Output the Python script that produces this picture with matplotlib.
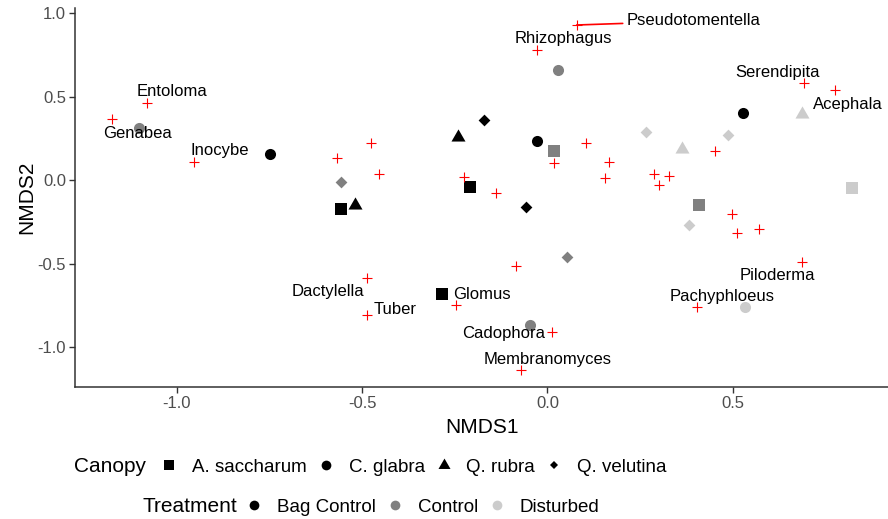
import matplotlib.pyplot as plt
from matplotlib.lines import Line2D

plt.rcParams['font.family'] = ['Liberation Sans', 'DejaVu Sans']
plt.rcParams['axes.unicode_minus'] = False

# NMDS site scores
site_x = [-1.103, -0.749, -0.557, -0.557, -0.520, -0.242, -0.171, -0.028,
          0.017, -0.209, -0.058, 0.028, 0.527, 0.688, 0.265, 0.364,
          0.486, 0.823, 0.409, 0.381, 0.052, -0.285, -0.048, 0.534]
site_y = [0.313, 0.157, -0.010, -0.172, -0.148, 0.261, 0.361, 0.237,
          0.175, -0.038, -0.158, 0.660, 0.405, 0.397, 0.287, 0.186,
          0.271, -0.044, -0.150, -0.269, -0.459, -0.683, -0.865, -0.757]
site_canopy = ['CG', 'CG', 'QV', 'AS', 'QR', 'QR', 'QV', 'CG',
               'AS', 'AS', 'QV', 'CG', 'CG', 'QR', 'QV', 'QR',
               'QV', 'AS', 'AS', 'QV', 'QV', 'AS', 'CG', 'CG']
site_treatment = ['C', 'B', 'C', 'B', 'B', 'B', 'B', 'B',
                  'C', 'B', 'B', 'C', 'B', 'D', 'D', 'D',
                  'D', 'D', 'C', 'D', 'C', 'B', 'C', 'D']

# NMDS genus scores (None = not labelled)
genus_names = ['Entoloma', 'Genabea', 'Inocybe', None, None, None,
               'Pseudotomentella', 'Rhizophagus', None, None, None, None,
               None, None, 'Serendipita', 'Acephala', None, None, None,
               None, None, None, None, 'Piloderma', 'Pachyphloeus',
               'Dactylella', 'Tuber', 'Glomus', None, 'Cadophora',
               'Membranomyces']
genus_x = [-1.081, -1.176, -0.953, -0.569, -0.476, -0.454, 0.079, -0.028,
           -0.225, -0.139, 0.104, 0.018, 0.165, 0.155, 0.692, 0.776,
           0.452, 0.287, 0.328, 0.302, 0.497, 0.512, 0.572, 0.688,
           0.404, -0.488, -0.488, -0.248, -0.086, 0.013, -0.072]
genus_y = [0.461, 0.367, 0.111, 0.132, 0.225, 0.038, 0.930, 0.780,
           0.022, -0.078, 0.225, 0.102, 0.108, 0.012, 0.585, 0.540,
           0.177, 0.038, 0.026, -0.028, -0.204, -0.317, -0.292, -0.487,
           -0.759, -0.587, -0.807, -0.747, -0.511, -0.906, -1.136]

# repelled label positions for the named genera
label_pos = {
    'Entoloma': (-1.012, 0.529), 'Genabea': (-1.106, 0.283),
    'Inocybe': (-0.884, 0.181), 'Rhizophagus': (0.043, 0.852),
    'Pseudotomentella': (0.395, 0.954), 'Serendipita': (0.621, 0.643),
    'Acephala': (0.810, 0.451), 'Piloderma': (0.620, -0.567),
    'Pachyphloeus': (0.472, -0.693), 'Dactylella': (-0.592, -0.663),
    'Tuber': (-0.412, -0.776), 'Glomus': (-0.176, -0.681),
    'Cadophora': (-0.117, -0.920), 'Membranomyces': (0.0, -1.070),
}

canopy_names = {'AS': 'A. saccharum', 'CG': 'C. glabra',
                'QR': 'Q. rubra', 'QV': 'Q. velutina'}
treatment_names = {'B': 'Bag Control', 'C': 'Control', 'D': 'Disturbed'}

tri = [(0, 1), (-0.866, -0.5), (0.866, -0.5)]
shapes = {'AS': ('s', 64), 'CG': ('o', 64), 'QR': (tri, 136), 'QV': ('D', 36)}
colours = {'B': 'black', 'C': '#808080', 'D': '#cccccc'}

fig = plt.figure(figsize=(8.88, 5.19), dpi=100)
ax = fig.add_axes([74.5 / 888, 1 - 387.4 / 519, 815 / 888, 379.6 / 519])

for cx, cy, can, trt in zip(site_x, site_y, site_canopy, site_treatment):
    m, s = shapes[can]
    ax.scatter(cx, cy, marker=m, s=s, color=colours[trt], linewidths=0, zorder=2)

ax.scatter(genus_x, genus_y, marker='+', s=45, color='red', linewidths=0.8, zorder=3)

for name, gx, gy in zip(genus_names, genus_x, genus_y):
    if name is None:
        continue
    tx, ty = label_pos[name]
    if name == 'Pseudotomentella':
        ax.annotate(name, xy=(gx, gy), xytext=(tx, ty), fontsize=12,
                    ha='center', va='center', color='black', zorder=4,
                    arrowprops=dict(arrowstyle='-', color='red', lw=1.2,
                                    shrinkA=1, shrinkB=0))
    else:
        ax.text(tx, ty, name, fontsize=12, ha='center', va='center',
                color='black', zorder=4)

ax.set_xlim(-1.276, 0.923)
ax.set_ylim(-1.24, 1.033)
ax.set_xticks([-1.0, -0.5, 0.0, 0.5])
ax.set_yticks([-1.0, -0.5, 0.0, 0.5, 1.0])
ax.set_xticklabels(['-1.0', '-0.5', '0.0', '0.5'])
ax.set_yticklabels(['-1.0', '-0.5', '0.0', '0.5', '1.0'])
ax.tick_params(labelsize=12, labelcolor='#4d4d4d', color='#333333',
               length=4, width=1, pad=2)
for side in ['top', 'right']:
    ax.spines[side].set_visible(False)
for side in ['left', 'bottom']:
    ax.spines[side].set_color('#333333')
    ax.spines[side].set_linewidth(1.1)
ax.set_xlabel('NMDS1', fontsize=15, labelpad=5)
ax.set_ylabel('NMDS2', fontsize=15, labelpad=1)


def key(marker, colour, size):
    return Line2D([], [], linestyle='none', marker=marker, markersize=size,
                  markerfacecolor=colour, markeredgecolor=colour,
                  markeredgewidth=0)


canopy_keys = [key('s', 'black', 7), key('o', 'black', 7),
               key(tri, 'black', 10), key('D', 'black', 4.5)]
treat_keys = [key('o', colours[t], 7) for t in ['B', 'C', 'D']]

fig.text(74 / 888, 1 - 467 / 519, 'Canopy', fontsize=15, va='center')
fig.legend(canopy_keys, [canopy_names[c] for c in ['AS', 'CG', 'QR', 'QV']],
           loc='center left', bbox_to_anchor=(160 / 888, 1 - 467 / 519),
           ncol=4, frameon=False, fontsize=13.5, handlelength=1.0,
           handletextpad=0.72, columnspacing=0.5, borderpad=0,
           borderaxespad=0)

fig.text(142 / 888, 1 - 507 / 519, 'Treatment', fontsize=15, va='center')
fig.legend(treat_keys, [treatment_names[t] for t in ['B', 'C', 'D']],
           loc='center left', bbox_to_anchor=(245 / 888, 1 - 507 / 519),
           ncol=3, frameon=False, fontsize=13.5, handlelength=1.0,
           handletextpad=0.72, columnspacing=0.5, borderpad=0,
           borderaxespad=0)

fig.savefig('out.png', dpi=100)
